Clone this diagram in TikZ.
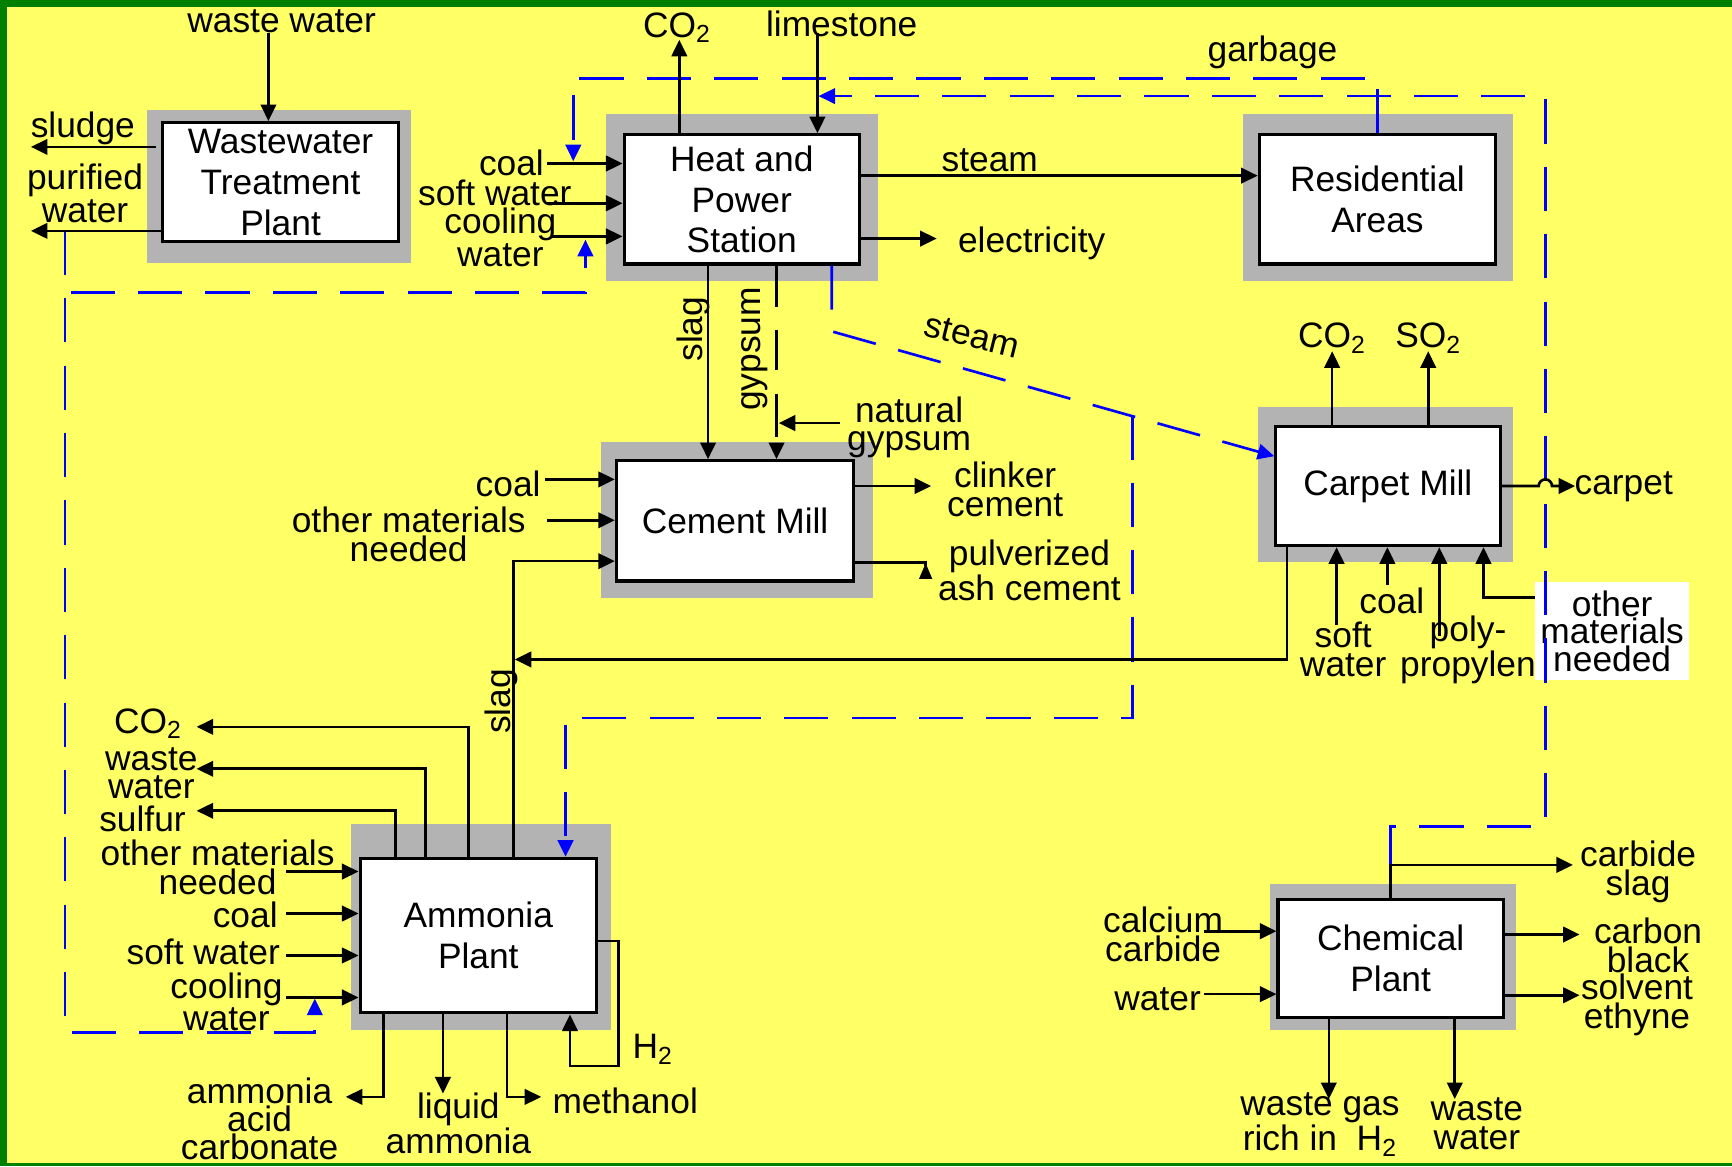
\documentclass[tikz,border=0pt]{standalone}
\usepackage{fontspec}
\setmainfont{Liberation Sans}
\usetikzlibrary{arrows.meta}
\definecolor{bgyellow}{HTML}{FFFF66}
\definecolor{shadowgray}{HTML}{B3B3B3}
\definecolor{framegreen}{HTML}{008000}
\definecolor{lineblue}{HTML}{0000FF}
\begin{document}
\begin{tikzpicture}[x=0.5pt,y=-0.5pt,
 box/.style={draw=black,line width=1.4pt,fill=white,inner sep=0pt,align=center,font=\fontsize{16}{18.5}\selectfont},
 lbl/.style={inner sep=0pt,align=center,font=\fontsize{16}{13}\selectfont},
 ln/.style={line width=1.2pt,black},
 arr/.style={ln,-{Triangle[length=7.5pt,width=7pt]}},
 flow/.style={lineblue,line width=1.2pt,dash pattern=on 20pt off 10.5pt},
 flowarr/.style={flow,-{Triangle[length=7.5pt,width=7pt]}},
 shade/.style={fill=shadowgray}]
\useasboundingbox (0,0) rectangle (1568,1056);
\fill[bgyellow] (0,0) rectangle (1568,1056);
\fill[framegreen] (0,0) rectangle (1568,6);
\fill[framegreen] (0,0) rectangle (6,1056);
\fill[framegreen] (0,1053) rectangle (1568,1056);
% shadows
\fill[shade] (133,100) rectangle (372,238);
\fill[shade] (549,103) rectangle (795,254);
\fill[shade] (1125,103) rectangle (1370,254);
\fill[shade] (544,400) rectangle (790,541);
\fill[shade] (1139,368) rectangle (1370,509);
\fill[shade] (318,746) rectangle (553,932);
\fill[shade] (1150,800) rectangle (1372,932);
% boxes
\node[box,minimum width=107pt,minimum height=54pt] (wwtp) at (254,165) {Wastewater\\Treatment\\Plant};
\node[box,minimum width=106.5pt,minimum height=58.5pt] (hps) at (671.5,180.5) {Heat and\\Power\\Station};
\node[box,minimum width=107pt,minimum height=58.5pt] (ra) at (1247,180.5) {Residential\\Areas};
\node[box,minimum width=107.5pt,minimum height=54.5pt] (cm) at (665.5,471.5) {Cement Mill};
\node[box,minimum width=101.5pt,minimum height=54pt] (carpet) at (1256.5,440) {Carpet Mill};
\node[box,minimum width=107pt,minimum height=70pt] (amm) at (433,847) {Ammonia\\Plant};
\node[box,minimum width=102pt,minimum height=53.5pt] (chem) at (1259,867.5) {Chemical\\Plant};
% labels
\node[lbl] (lww) at (255,19) {waste water};
\node[lbl] (lsl) at (75,116) {sludge};
\node[lbl] (lpw) at (77,175) {purified\\water};
\node[lbl] (lhcoal) at (463,147) {coal};
\node[lbl] (lhsw) at (448,175) {soft water};
\node[lbl] (lhcw) at (453,215) {cooling\\water};
\node[lbl] (lhco2) at (613,25) {CO\textsubscript{2}};
\node[lbl] (lls) at (762,22) {limestone};
\node[lbl] (lgb) at (1152,47) {garbage};
\node[lbl] (lst) at (896,145) {steam};
\node[lbl] (lel) at (934,220) {electricity};
\node[lbl,rotate=90] (lslag1) at (628,298) {slag};
\node[lbl,rotate=90] (lgyp) at (683,316) {gypsum};
\node[lbl] (lng) at (823,387) {natural\\gypsum};
\node[lbl,rotate=-14] (lst2) at (880,304) {steam};
\node[lbl] (lccoal) at (460,438) {coal};
\node[lbl] (lcom) at (370,484) {other materials\\needed};
\node[lbl] (lclk) at (910,443) {clinker\\cement};
\node[lbl] (lpac) at (932,516) {pulverized\\ash cement};
\node[lbl,rotate=90] (lslag2) at (454,635) {slag};
\node[lbl] (lkco2) at (1206,306) {CO\textsubscript{2}};
\node[lbl] (lkso2) at (1293,306) {SO\textsubscript{2}};
\node[lbl] (lcarpet) at (1470,441) {carpet};
\node[lbl] (lksw) at (1216,588) {soft\\water};
\node[lbl] (lkcoal) at (1260,544) {coal};
\node[lbl] (lkpp) at (1329,588) {poly-\\propylen};
\node[lbl,fill=white,minimum width=69.5pt,minimum height=44.5pt,font=\fontsize{16}{12.5}\selectfont] (lkom) at (1459.5,571.5) {other\\materials\\needed};
\node[lbl] (laco2) at (134,655) {CO\textsubscript{2}};
\node[lbl] (laww) at (137,700) {waste\\water};
\node[lbl] (lasu) at (129,741) {sulfur};
\node[lbl] (laom) at (197,785) {other materials\\needed};
\node[lbl] (lacoal) at (222,828) {coal};
\node[lbl] (lasw) at (184,862) {soft water};
\node[lbl] (lacw) at (205,907) {cooling\\water};
\node[lbl] (lah2) at (591,950) {H\textsubscript{2}};
\node[lbl,font=\fontsize{16}{12.5}\selectfont] (laac) at (235,1013) {ammonia\\acid\\carbonate};
\node[lbl] (lala) at (415,1017) {liquid\\ammonia};
\node[lbl] (lame) at (566,997) {methanol};
\node[lbl] (lchcc) at (1053,846) {calcium\\carbide};
\node[lbl] (lchw) at (1048,905) {water};
\node[lbl] (lchcs) at (1483,789) {carbide\\slag};
\node[lbl] (lchcb) at (1492,856) {carbon\\black};
\node[lbl] (lchse) at (1482,910) {solvent\\ethyne};
\node[lbl] (lchwg) at (1195,1018) {waste gas\\rich in~~H\textsubscript{2}};
\node[lbl] (lchww) at (1337,1017) {waste\\water};
% free-end coordinates
\coordinate (stj) at (1025,376);
% --- blue flows
\draw[flowarr] (1247,0 |- ra.north) -- (1247,71) -- (519,71) -- (519,146);
\draw[flowarr] (1259,783) -- (1259,748) -- (1399,748) -- (1399,87) -- (741,87);
\draw[flowarr] (59,209) -- (59,265) -- (530,265) -- (530,217);
\draw[flowarr] (59,209) -- (59,935) -- (285,935) -- (285,904);
\draw[flowarr] (753,0 |- hps.south) -- (753,300) -- (carpet.west |- 0,413);
\draw[flowarr] (stj) -- (1025,650) -- (512,650) -- (512,0 |- amm.north);
% --- Wastewater plant
\draw[arr] (243,30) -- (243,0 |- wwtp.north);
\draw[arr] (141,133) -- (28,133);
\draw[arr] (wwtp.west |- 0,209) -- (28,209);
% --- Heat and power station
\draw[arr] (615,0 |- hps.north) -- (615,36);
\draw[arr] (740,30) -- (740,0 |- hps.north);
\draw[arr] (495,148) -- (hps.west |- 0,148);
\draw[arr] (495,184) -- (hps.west |- 0,184);
\draw[arr] (500,214) -- (hps.west |- 0,214);
\draw[arr] (hps.east |- 0,159) -- (ra.west |- 0,159);
\draw[arr] (hps.east |- 0,216) -- (848,216);
\draw[arr] (641,0 |- hps.south) -- (641,0 |- cm.north);
\draw[ln] (703,0 |- hps.south) -- (703,278);
\draw[ln] (703,299) -- (703,335);
\draw[ln] (703,357) -- (703,396);
\draw[arr] (703,404) -- (703,0 |- cm.north);
\draw[arr] (760,383) -- (705,383);
% --- Cement mill
\draw[arr] (493,434) -- (cm.west |- 0,434);
\draw[arr] (495,471) -- (cm.west |- 0,471);
\draw[arr] (cm.east |- 0,440) -- (843,440);
\draw[ln] (cm.east |- 0,509) -- (838,509) -- (838,512);
\fill (832,524) -- (844,524) -- (838,510) -- cycle;
% --- Carpet mill
\draw[arr] (1206,0 |- carpet.north) -- (1206,318);
\draw[arr] (1293,0 |- carpet.north) -- (1293,318);
\draw[arr] (carpet.east |- 0,440) -- (1393,440) arc[start angle=180,end angle=360,radius=6] -- (1426,440);
\draw[arr] (1210,566) -- (1210,0 |- carpet.south);
\draw[arr] (1256,530) -- (1256,0 |- carpet.south);
\draw[arr] (1303,576) -- (1303,0 |- carpet.south);
\draw[arr] (lkom.west |- 0,541) -- (1343,541) -- (1343,0 |- carpet.south);
\draw[arr] (1165,0 |- carpet.south) -- (1165,597) -- (466,597);
% --- Ammonia plant
\draw[arr] (465,0 |- amm.north) -- (465,508) -- (cm.west |- 0,508);
\draw[arr] (424,0 |- amm.north) -- (424,658) -- (178,658);
\draw[arr] (385,0 |- amm.north) -- (385,696) -- (178,696);
\draw[arr] (358,0 |- amm.north) -- (358,734) -- (178,734);
\draw[arr] (259,789) -- (amm.west |- 0,789);
\draw[arr] (259,827) -- (amm.west |- 0,827);
\draw[arr] (259,865) -- (amm.west |- 0,865);
\draw[arr] (259,903) -- (amm.west |- 0,903);
\draw[arr] (amm.east |- 0,852) -- (560,852) -- (560,965) -- (516,965) -- (516,0 |- amm.south);
\draw[arr] (347,0 |- amm.south) -- (347,993) -- (313,993);
\draw[arr] (401,0 |- amm.south) -- (401,990);
\draw[arr] (459,0 |- amm.south) -- (459,993) -- (490,993);
% --- Chemical plant
\draw[arr] (1090,843) -- (chem.west |- 0,843);
\draw[arr] (1090,900) -- (chem.west |- 0,900);
\draw[arr] (1259,0 |- chem.north) -- (1259,783) -- (1424,783);
\draw[arr] (chem.east |- 0,846) -- (1430,846);
\draw[arr] (chem.east |- 0,901) -- (1430,901);
\draw[arr] (1203,0 |- chem.south) -- (1203,995);
\draw[arr] (1317,0 |- chem.south) -- (1317,995);
\end{tikzpicture}
\end{document}
